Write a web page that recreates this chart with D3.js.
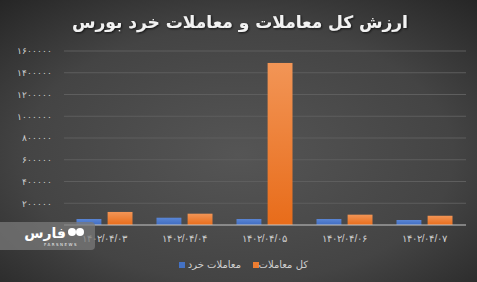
<!DOCTYPE html>
<html>
<head>
<meta charset="utf-8">
<script src="https://cdn.jsdelivr.net/npm/d3@7"></script>
<style>
  html, body { margin: 0; padding: 0; background: #333; }
  svg { display: block; font-family: "DejaVu Sans", "Noto Sans", sans-serif; }
</style>
</head>
<body>
<svg id="svg"></svg>
<script>
// data
const dates = ["۱۴۰۲/۰۴/۰۳", "۱۴۰۲/۰۴/۰۴", "۱۴۰۲/۰۴/۰۵", "۱۴۰۲/۰۴/۰۶", "۱۴۰۲/۰۴/۰۷"];
const seriesNames = ["معاملات خرد", "کل معاملات"];
const retailValues = [55000, 67000, 55000, 55000, 46000];
const totalValues = [120000, 104000, 1490000, 95000, 85000];
// the 0 label sits under the logo in the original, so only these are visible
const yTicks = [200000, 400000, 600000, 800000, 1000000, 1200000, 1400000, 1600000];

const width = 477;
const height = 282;
let svg = d3.select("#svg").attr("width", width).attr("height", height);

function toPersian(n) {
    const digits = "۰۱۲۳۴۵۶۷۸۹";
    return String(n).replace(/[0-9]/g, d => digits[+d]);
}

let defs = svg.append("defs");
let bg = defs.append("radialGradient").attr("id", "bg")
    .attr("cx", "50%").attr("cy", "55%").attr("r", "75%");
bg.append("stop").attr("offset", "0%").attr("stop-color", "#555555");
bg.append("stop").attr("offset", "60%").attr("stop-color", "#444444");
bg.append("stop").attr("offset", "100%").attr("stop-color", "#252525");

let gBlue = defs.append("linearGradient").attr("id", "gBlue").attr("x1", 0).attr("y1", 0).attr("x2", 0).attr("y2", 1);
gBlue.append("stop").attr("offset", "0%").attr("stop-color", "#5a86d6");
gBlue.append("stop").attr("offset", "100%").attr("stop-color", "#3f6cc0");
let gOrange = defs.append("linearGradient").attr("id", "gOrange").attr("x1", 0).attr("y1", 0).attr("x2", 0).attr("y2", 1);
gOrange.append("stop").attr("offset", "0%").attr("stop-color", "#f29556");
gOrange.append("stop").attr("offset", "100%").attr("stop-color", "#e86c1a");

let shadow = defs.append("filter").attr("id", "shadow");
shadow.append("feDropShadow").attr("dx", 1).attr("dy", 1).attr("stdDeviation", 0.8)
    .attr("flood-color", "#000").attr("flood-opacity", 0.7);

svg.append("rect").attr("width", width).attr("height", height).attr("fill", "url(#bg)");

// title
svg.append("text")
    .attr("x", 240).attr("y", 28)
    .attr("text-anchor", "middle")
    .attr("fill", "#f2f2f2")
    .attr("font-size", "17px")
    .attr("font-weight", "bold")
    .attr("filter", "url(#shadow)")
    .text("ارزش کل معاملات و معاملات خرد بورس");

// scales
const x0 = d3.scaleBand().domain(dates).range([64.5, 464.5]);
const x1 = d3.scaleBand().domain(seriesNames).range([12, 68]).paddingInner(0.2);
const y = d3.scaleLinear().domain([0, 1600000]).range([225, 51]);

// grid
svg.append("g").selectAll("line")
    .data(yTicks)
    .join("line")
    .attr("x1", 64).attr("x2", 466)
    .attr("y1", d => y(d)).attr("y2", d => y(d))
    .attr("stroke", "#5e5e5e").attr("stroke-width", 1);

// y axis labels
let yAxis = svg.append("g").attr("transform", "translate(56,0)")
    .call(d3.axisLeft(y).tickValues(yTicks).tickSize(0).tickPadding(4).tickFormat(toPersian));
yAxis.select(".domain").remove();
yAxis.selectAll("text").attr("fill", "#d0d0d0").attr("font-size", "9px").attr("letter-spacing", "0.6px");

// bars
const seriesData = [
    { name: seriesNames[0], values: retailValues, fill: "url(#gBlue)" },
    { name: seriesNames[1], values: totalValues, fill: "url(#gOrange)" }
];
seriesData.forEach(s => {
    svg.append("g").selectAll("rect")
        .data(s.values)
        .join("rect")
        .attr("x", (d, i) => x0(dates[i]) + x1(s.name))
        .attr("width", x1.bandwidth())
        .attr("y", d => y(d))
        .attr("height", d => y(0) - y(d))
        .attr("fill", s.fill);
});

// baseline
svg.append("line").attr("x1", 64).attr("x2", 466)
    .attr("y1", y(0)).attr("y2", y(0))
    .attr("stroke", "#c8c8c8").attr("stroke-width", 1);

// x axis labels
let xAxis = svg.append("g").attr("transform", `translate(0,${y(0)})`)
    .call(d3.axisBottom(x0).tickSize(0).tickPadding(10));
xAxis.select(".domain").remove();
xAxis.selectAll("text").attr("fill", "#d0d0d0").attr("font-size", "10px");

// legend
const legend = [
    { name: seriesNames[0], color: "#4472c4", x: 179, tx: 241 },
    { name: seriesNames[1], color: "#ed7d31", x: 253, tx: 308 }
];
legend.forEach(l => {
    svg.append("rect").attr("x", l.x).attr("y", 262).attr("width", 6).attr("height", 6).attr("fill", l.color);
    svg.append("text").attr("x", l.tx).attr("y", 268)
        .attr("text-anchor", "end")
        .attr("fill", "#d0d0d0").attr("font-size", "10px")
        .text(l.name);
});

// news agency logo
let logo = svg.append("g");
logo.append("rect").attr("x", -6).attr("y", 222).attr("width", 101).attr("height", 28).attr("rx", 4)
    .attr("fill", "#7a7a7a").attr("fill-opacity", 0.75);
logo.append("circle").attr("cx", 72).attr("cy", 232).attr("r", 4).attr("fill", "#fff");
logo.append("circle").attr("cx", 80).attr("cy", 232).attr("r", 4).attr("fill", "#fff");
logo.append("text").attr("x", 66).attr("y", 238).attr("text-anchor", "end")
    .attr("fill", "#fff").attr("font-size", "14px").attr("font-weight", "bold").text("فارس");
logo.append("text").attr("x", 61).attr("y", 246).attr("text-anchor", "middle")
    .attr("fill", "#eee").attr("font-size", "4px").attr("letter-spacing", "1.5px").text("FARSNEWS");
</script>
</body>
</html>
